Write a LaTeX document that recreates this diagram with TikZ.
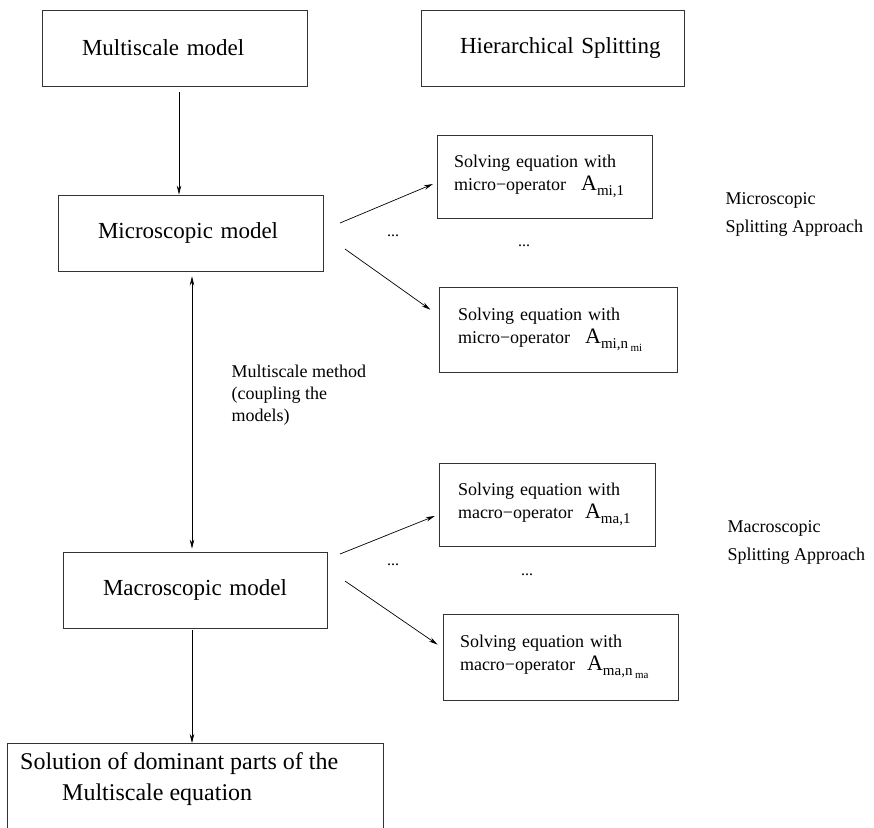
\documentclass[tikz,border=0pt]{standalone}
\usepackage{fontspec}
\setmainfont{Liberation Serif}
\usetikzlibrary{arrows.meta}

% operator with its subscripts
\newcommand{\opA}[1]{{\fontsize{22}{24}\selectfont A}\raisebox{-5pt}{\fontsize{15}{16}\selectfont #1}}
\newcommand{\opAn}[2]{{\fontsize{22}{24}\selectfont A}\raisebox{-5pt}{\fontsize{15}{16}\selectfont #1,n\,\raisebox{-3pt}{\fontsize{11}{12}\selectfont #2}}}

\begin{document}
\begin{tikzpicture}[x=1pt, y=-1pt,
    box/.style={draw=black!80, line width=0.9pt, rectangle, align=left},
    big/.style={font=\fontsize{23}{28}\selectfont},
    small/.style={font=\fontsize{18}{23}\selectfont},
    arr/.style={-{Stealth[length=9pt,width=4.5pt]}, line width=0.7pt},
    dots/.style={font=\fontsize{16}{16}\selectfont}]
    \useasboundingbox (0,0) rectangle (874,827);

    % left column
    \node[box, big, minimum width=265, minimum height=76, text width=185, inner xsep=40] (multi) at (174.5,48) {Multiscale model};
    \node[box, big, minimum width=263, minimum height=76, text width=185, inner xsep=39] (hier) at (552.5,48) {\makebox[185pt][l]{Hierarchical Splitting}};
    \node[box, big, minimum width=265, minimum height=76, text width=185, inner xsep=40] (micro) at (190.5,233) {Microscopic model};
    \node[box, big, minimum width=264, minimum height=76, text width=184, inner xsep=40] (macro) at (195,590) {Macroscopic model};
    \node[box, minimum width=376, minimum height=120, anchor=north west] (sol) at (7,743) {};
    \node[big, font=\fontsize{24}{31}\selectfont, align=left, anchor=north west, inner sep=0pt] (solText) at (20,752)
        {Solution of dominant parts of the\\\hspace*{42pt}Multiscale equation};

    \draw[arr] (179,92) -- (micro.north -| 179,0);
    \draw[arr, <->, >={Stealth[length=9pt,width=4.5pt]}, shorten <=5pt, shorten >=3pt] (micro.south -| 192,0) -- (macro.north -| 192,0);
    \draw[arr] (macro.south -| 192,0) ++(0,2) -- (sol.north -| 192,0);
    \node[small, align=left, font=\fontsize{18}{22}\selectfont, anchor=west] (method) at (228,395)
        {Multiscale method\\(coupling the\\models)};

    % micro splitting
    \node[box, small, minimum width=215, minimum height=83, text width=181, inner xsep=17] (mi1) at (544.5,176.5)
        {Solving equation with\\micro\textminus operator\hspace{15pt}\opA{mi,1}};
    \node[box, small, minimum width=238, minimum height=85, text width=200, inner xsep=19] (min) at (558,329.5)
        {Solving equation with\\micro\textminus operator\hspace{15pt}\opAn{mi}{mi}};
    \coordinate (miOut1) at (340,223);
    \coordinate (miOut2) at (345,249);
    \draw[arr, shorten >=4pt] (miOut1) -- ([yshift=-6pt]mi1.west);
    \draw[arr, shorten >=10pt] (miOut2) -- ([yshift=14pt]min.west);
    \node[dots] (miDots1) at (393,236) {...};
    \node[dots] (miDots2) at (524,246) {...};
    \node[small, align=left, font=\fontsize{18}{28}\selectfont, anchor=west] (miLabel) at (722,214)
        {Microscopic\\Splitting Approach};

    % macro splitting
    \node[box, small, minimum width=216, minimum height=83, text width=178, inner xsep=19] (ma1) at (547,504.5)
        {Solving equation with\\macro\textminus operator\hspace{12pt}\opA{ma,1}};
    \node[box, small, minimum width=235, minimum height=86, text width=201, inner xsep=17] (man) at (560.5,657)
        {Solving equation with\\macro\textminus operator\hspace{12pt}\opAn{ma}{ma}};
    \coordinate (maOut1) at (340,554);
    \coordinate (maOut2) at (345,581);
    \draw[arr, shorten >=4pt] (maOut1) -- ([yshift=-10pt]ma1.west);
    \draw[arr, shorten >=6pt] (maOut2) -- ([yshift=9pt]man.west);
    \node[dots] (maDots1) at (393,565) {...};
    \node[dots] (maDots2) at (527,575) {...};
    \node[small, align=left, font=\fontsize{18}{28}\selectfont, anchor=west] (maLabel) at (724,542)
        {Macroscopic\\Splitting Approach};
\end{tikzpicture}
\end{document}
